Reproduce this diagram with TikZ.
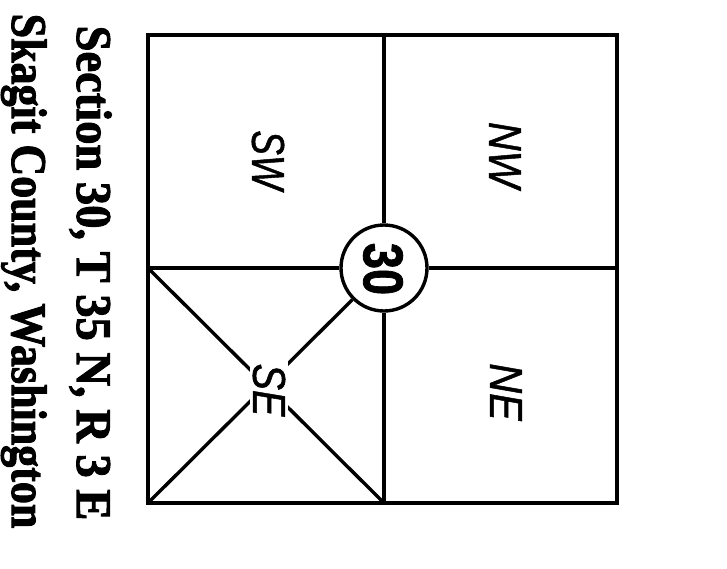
\documentclass[tikz,border=0pt]{standalone}
\usepackage{fontspec}
\setmainfont{Liberation Serif}
\newfontfamily\labfont{Liberation Sans Italic}[FakeBold=1.2]
\newfontfamily\numfont{Liberation Sans Bold}[FakeBold=1.5]
\newfontfamily\titlefont{Liberation Serif Bold}[FakeBold=2]
\begin{document}
\begin{tikzpicture}[x=1pt,y=-1pt,
  outer/.style={line width=4.6pt},
  inner/.style={line width=3.4pt},
  quad/.style={rotate=-90,inner sep=0pt,font=\labfont\fontsize{46}{46}\selectfont},
  titletext/.style={rotate=-90,inner sep=0pt,anchor=base,font=\titlefont\fontsize{50}{50}\selectfont}]
\useasboundingbox (0,0) rectangle (727,568);
% square corners
\coordinate (tl) at (148,35);
\coordinate (tr) at (617,35);
\coordinate (bl) at (148,503);
\coordinate (br) at (617,503);
\coordinate (tm) at (384,35);
\coordinate (bm) at (384,503);
\coordinate (lm) at (148,268);
\coordinate (rm) at (617,268);
\node[circle,draw,line width=3.4pt,minimum size=86pt,inner sep=0pt] (c) at (384,268) {};
\draw[inner] (tm) -- (c.north);
\draw[inner] (c.south) -- (bm);
\draw[inner] (lm) -- (c.west);
\draw[inner] (c.east) -- (rm);
\draw[inner] (lm) -- (bm);
\draw[inner] (bl) -- (c.south west);
\draw[outer,line join=miter] (tl) rectangle (br);
\node[circle,inner sep=0pt,rotate=-90,font=\numfont\fontsize{56}{56}\selectfont] (num) at (383,269) {\scalebox{0.84}[1]{30}};
\node[quad] (sw) at (268,160) {\scalebox{0.8}[1]{SW}};
\node[quad] (nw) at (505,155) {\scalebox{0.86}[1]{NW}};
\node[quad] (ne) at (506,392) {\scalebox{0.9}[1]{NE}};
\node[quad,fill=white,inner sep=3pt] (se) at (269,390) {\scalebox{0.86}[1]{SE}};
\node[titletext] (t1) at (77,273) {\scalebox{0.93}[1]{Section 30, T 35 N, R 3 E}};
\node[titletext] (t2) at (12,271) {\scalebox{0.88}[1]{Skagit County, Washington}};
\end{tikzpicture}
\end{document}
